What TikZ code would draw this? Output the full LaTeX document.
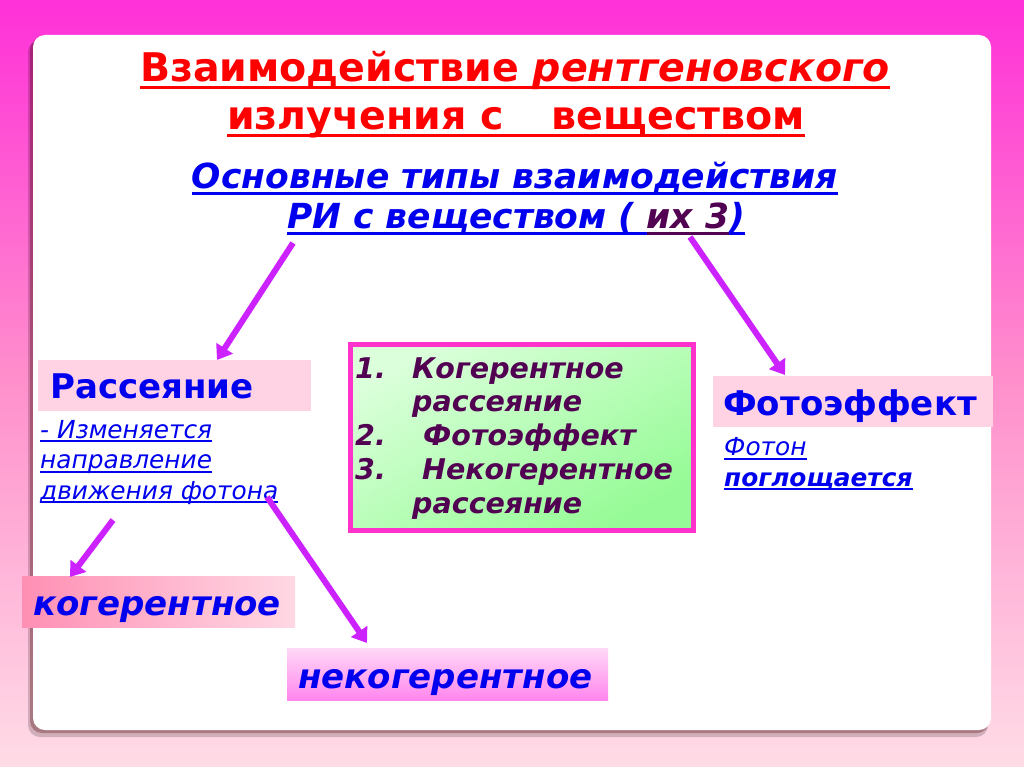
\documentclass[tikz,border=0pt]{standalone}
\usepackage{fontspec}
\setmainfont{DejaVu Sans}
\usetikzlibrary{arrows.meta,calc}
\definecolor{ttred}{HTML}{FF0000}
\definecolor{ttblue}{HTML}{0000EE}
\definecolor{ttpurple}{HTML}{520052}
\definecolor{arrviolet}{HTML}{CC22FF}
\definecolor{bgtop}{HTML}{FF30D8}
\definecolor{bgmid}{HTML}{FF90CC}
\definecolor{bgbot}{HTML}{FFDCE6}
\definecolor{boxpink}{HTML}{FFD2E4}
\definecolor{framemag}{HTML}{FF33CC}
\definecolor{kogleft}{HTML}{FF8FB4}
\definecolor{kogright}{HTML}{FFD8E4}
\definecolor{nektop}{HTML}{FFD8F6}
\definecolor{nekbot}{HTML}{FF86EE}
\definecolor{greenlight}{HTML}{DAFFDA}
\definecolor{greendark}{HTML}{96FB96}
\newcommand\ulx[1]{\setbox0\hbox{#1}\rlap{\rule[-0.18em]{\wd0}{0.09em}}\box0}
\begin{document}
\begin{tikzpicture}[x=1pt,y=-1pt,
  titletext/.style={font=\bfseries\fontsize{39.5}{44}\selectfont, text=ttred, inner sep=0pt, anchor=base},
  subtext/.style={font=\bfseries\itshape\fontsize{34.5}{38}\selectfont, text=ttblue, inner sep=0pt, anchor=base},
  headtext/.style={font=\bfseries\fontsize{34}{38}\selectfont, text=ttblue, inner sep=0pt, anchor=base west},
  kindtext/.style={font=\bfseries\itshape\fontsize{34}{38}\selectfont, text=ttblue, inner sep=0pt, anchor=base west},
  notetext/.style={font=\itshape\fontsize{24.8}{30.5}\selectfont, text=ttblue, inner sep=0pt, anchor=base west, align=left},
  listtext/.style={font=\bfseries\itshape\fontsize{28.5}{33.75}\selectfont, text=ttpurple, inner sep=0pt, anchor=base west, align=left},
  flatbox/.style={inner sep=0pt, anchor=north west, draw=none},
  arr/.style={draw=arrviolet, line width=6pt, -{Triangle[length=14pt,width=19pt]}},
]
\useasboundingbox (0,0) rectangle (1024,767);
% background
\shade[top color=bgtop, bottom color=bgbot, middle color=bgmid] (0,0) rectangle (1024,767);
% slide shadow and slide
\fill[rounded corners=12pt, black, opacity=0.18] (28,40) rectangle (988,737);
\fill[rounded corners=12pt, black!70!red, opacity=0.30] (30,38) rectangle (989,733);
\fill[rounded corners=12pt, white] (33,35) rectangle (991,730);

% title
\node[titletext] (t1) at (515,82) {\ulx{Взаимодействие \textit{рентгеновского}}};
\node[titletext] (t2) at (516,130) {\ulx{излучения с\hspace{48pt}веществом}};
% subtitle
\node[subtext] (s1) at (515,189) {\ulx{Основные типы взаимодействия}};
\node[subtext] (s2) at (516,229) {\ulx{РИ с веществом ( }\textcolor{ttpurple}{\ulx{их 3}}\ulx{)}};

% scattering
\node[flatbox, fill=boxpink, minimum width=273pt, minimum height=51pt] (rass) at (38,360) {};
\node[headtext] (rasst) at (50,398) {Рассеяние};
\node[notetext] (rassn) at (40,499) {\ulx{- Изменяется}\\\ulx{направление}\\\ulx{движения фотона}};

% coherent / incoherent
\node[flatbox, left color=kogleft, right color=kogright, minimum width=273pt, minimum height=51pt] (kog) at (22,576) {};
\node[kindtext] (kogt) at (33,615) {когерентное};
\node[flatbox, top color=nektop, bottom color=nekbot, minimum width=321pt, minimum height=52pt] (nekog) at (287,648) {};
\node[kindtext] (nekogt) at (298,688) {некогерентное};

% central list
\node[flatbox, top color=greenlight, bottom color=greendark, shading angle=30, draw=framemag, line width=5pt, minimum width=343pt, minimum height=186pt] (list) at (348,342) {};
\node[listtext] (listt) at (355,513) {\makebox[57pt][l]{1.}Когерентное\\\hspace{57pt}рассеяние\\\makebox[68pt][l]{2.}Фотоэффект\\\makebox[67pt][l]{3.}Некогерентное\\\hspace{57pt}рассеяние};

% photoeffect
\node[flatbox, fill=boxpink, minimum width=280pt, minimum height=51pt] (foto) at (713,376) {};
\node[headtext] (fotot) at (723,415) {Фотоэффект};
\node[notetext] (foton) at (724,486) {\ulx{Фотон}\\\ulx{\bfseries поглощается}};

% arrows
\coordinate (a1s) at (293,243);
\coordinate (a1e) at (217,360);
\coordinate (a2s) at (690,237);
\coordinate (a2e) at (785,375);
\coordinate (a3s) at (113,520);
\coordinate (a3e) at (70,577);
\coordinate (a4s) at (267,497);
\coordinate (a4e) at (367,643);
\draw[arr] (a1s) -- (a1e);
\draw[arr] (a2s) -- (a2e);
\draw[arr] (a3s) -- (a3e);
\draw[arr] (a4s) -- (a4e);
\end{tikzpicture}
\end{document}
